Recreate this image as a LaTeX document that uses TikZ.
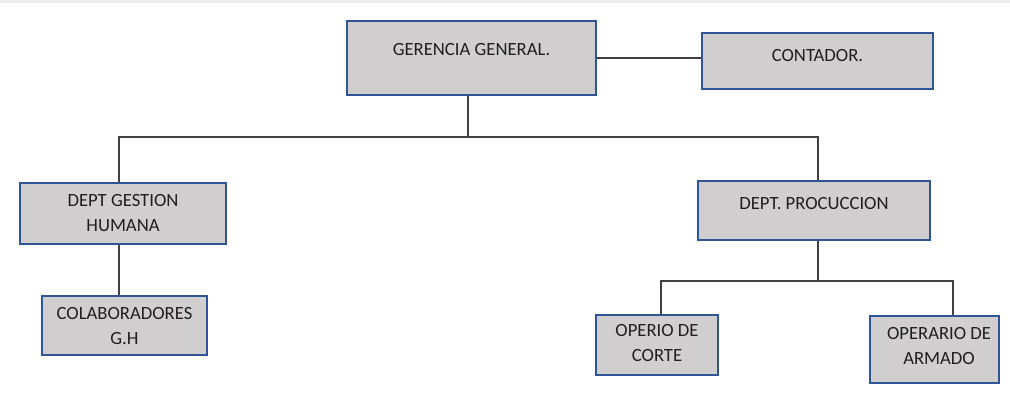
\documentclass[tikz,border=0pt]{standalone}
\usepackage{fontspec}
\setmainfont{Carlito}
\usetikzlibrary{calc}
\definecolor{boxfill}{HTML}{D0CECE}
\definecolor{boxline}{HTML}{2F5597}
\definecolor{linkgray}{HTML}{404040}
\tikzset{
	unitbox/.style={draw=boxline, fill=boxfill, line width=1pt, inner sep=0pt},
	boxtext/.style={align=center, inner sep=0pt, text=black!88, font=\fontsize{14}{18.75}\selectfont},
	link/.style={draw=linkgray, line width=0.9pt}
}

\begin{document}
\begin{tikzpicture}[x=0.75pt, y=-0.75pt]
			%%%%% START %%%%%
			\useasboundingbox (0, 0) rectangle (1010, 404);
			\fill[black!8] (0, 0) rectangle (1010, 3);
			
			% boxes
			\node[unitbox, minimum width=249*0.75pt, minimum height=74*0.75pt] (gerencia) at (471.5, 58) {};
			\node[unitbox, minimum width=231*0.75pt, minimum height=56*0.75pt] (contador) at (817.5, 61) {};
			\node[unitbox, minimum width=206*0.75pt, minimum height=61*0.75pt] (gestion) at (123, 213.5) {};
			\node[unitbox, minimum width=165*0.75pt, minimum height=59*0.75pt] (colab) at (124.5, 325.5) {};
			\node[unitbox, minimum width=232*0.75pt, minimum height=59*0.75pt] (produccion) at (814, 210.5) {};
			\node[unitbox, minimum width=122*0.75pt, minimum height=60*0.75pt] (corte) at (657, 345) {};
			\node[unitbox, minimum width=129*0.75pt, minimum height=67*0.75pt] (armado) at (934.5, 349.5) {};
			
			% texts
			\node[boxtext] (gerencia-t) at ([yshift=6pt]gerencia.center) {GERENCIA GENERAL.};
			\node[boxtext] (contador-t) at ([yshift=3.75pt]contador.center) {CONTADOR.};
			\node[boxtext] (gestion-t) at (gestion.center) {DEPT GESTION\\HUMANA};
			\node[boxtext] (colab-t) at ([yshift=-0.75pt]colab.center) {COLABORADORES\\G.H};
			\node[boxtext] (produccion-t) at ([yshift=4.9pt]produccion.center) {DEPT. PROCUCCION};
			\node[boxtext] (corte-t) at ([yshift=1.5pt]corte.center) {OPERIO DE\\CORTE};
			\node[boxtext] (armado-t) at ([xshift=3.4pt, yshift=2.6pt]armado.center) {OPERARIO DE\\ARMADO};
			
			% bus points
			\coordinate (topbus) at (468, 137);
			\coordinate (leftdrop) at (119, 137);
			\coordinate (rightdrop) at (818, 137);
			\coordinate (lowbus) at (818, 281);
			\coordinate (cortedrop) at (661, 281);
			\coordinate (armadodrop) at (953, 281);
			
			% connectors
			\draw[link] (gerencia.east) -- (gerencia.east -| contador.west);
			\draw[link] (gerencia.south -| topbus) -- (topbus);
			\draw[link] (gestion.north -| leftdrop) -- (leftdrop) -- (rightdrop) -- (produccion.north -| rightdrop);
			\draw[link] (gestion.south -| leftdrop) -- (colab.north -| leftdrop);
			\draw[link] (produccion.south -| lowbus) -- (lowbus);
			\draw[link] (corte.north -| cortedrop) -- (cortedrop) -- (armadodrop) -- (armado.north -| armadodrop);
			
			%%%%% END %%%%%
\end{tikzpicture}
\end{document}
